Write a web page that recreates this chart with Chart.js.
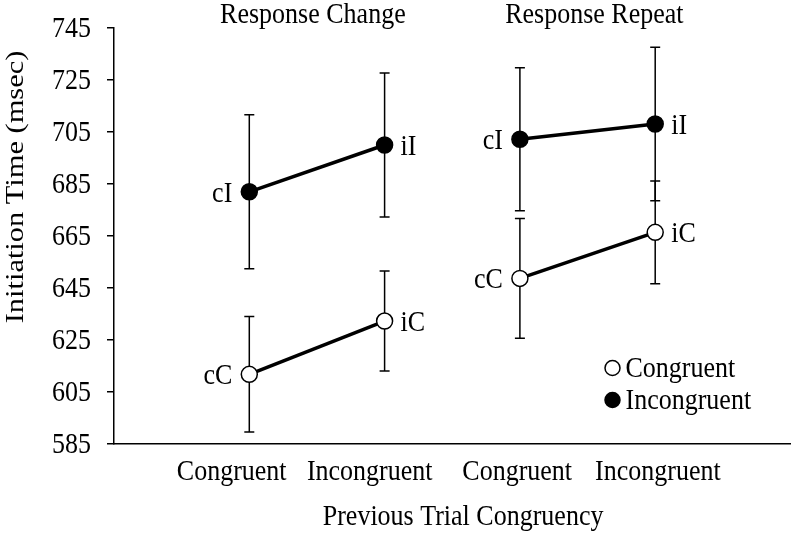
<!DOCTYPE html>
<html>
<head>
<meta charset="utf-8">
<script src="https://cdn.jsdelivr.net/npm/chart.js@4.4.1/dist/chart.umd.min.js"></script>
<style>
    html, body { margin: 0; padding: 0; background: #ffffff; }
</style>
</head>
<body>
<canvas id="rtChart" width="800" height="536"></canvas>
<script>
// Previous-trial congruency categories (x axis)
const categories = ['Congruent', 'Incongruent', 'Congruent', 'Incongruent'];
const categoryX = [1, 2, 3, 4];
const groupTitles = ['Response Change', 'Response Repeat'];

// Mean initiation times (msec), [previous congruent, previous incongruent]
const changeCongruent = [611.8, 632.3];
const changeIncongruent = [682.0, 700.0];
const repeatCongruent = [648.7, 666.4];
const repeatIncongruent = [702.2, 708.1];

// Error bar half-lengths (msec)
const changeCongruentErr = [22.2, 19.2];
const changeIncongruentErr = [29.6, 27.7];
const repeatCongruentErr = [23.0, 19.8];
const repeatIncongruentErr = [27.5, 29.5];

// Point labels
const congruentLabels = ['cC', 'iC'];
const incongruentLabels = ['cI', 'iI'];

// Y axis ticks
const yMin = 585;
const yMax = 745;
const yStep = 20;

const FONT = "'Liberation Serif', 'Times New Roman', serif";
const FONT_SIZE = 26;
const STRETCH = 1.17; // the original lettering is taller than it is wide

function makeSeries(values, errs, labels, filled, xs) {
    return {
        data: values.map((v, i) => ({ x: xs[i], y: v })),
        errs: errs,
        pointLabels: labels,
        borderColor: '#000000',
        borderWidth: 3.5,
        pointRadius: 8,
        pointHoverRadius: 8,
        pointBorderWidth: 1.5,
        pointBorderColor: '#000000',
        pointBackgroundColor: filled ? '#000000' : '#ffffff',
        fill: false,
        tension: 0
    };
}

function drawText(ctx, text, x, y, align, size, rotate) {
    ctx.save();
    ctx.translate(x, y);
    ctx.scale(1, STRETCH);
    if (rotate) ctx.rotate(-Math.PI / 2);
    ctx.font = size + 'px ' + FONT;
    ctx.textAlign = align;
    ctx.textBaseline = 'middle';
    ctx.fillStyle = '#000000';
    ctx.fillText(text, 0, 0);
    ctx.restore();
}

// Error bars sit behind the markers
const errorBarPlugin = {
    id: 'errorBars',
    beforeDatasetsDraw(chart) {
        const ctx = chart.ctx;
        const yScale = chart.scales.y;
        ctx.save();
        ctx.strokeStyle = '#000000';
        ctx.lineWidth = 1.5;
        chart.data.datasets.forEach((ds, i) => {
            const meta = chart.getDatasetMeta(i);
            meta.data.forEach((pt, j) => {
                const v = ds.data[j].y;
                const e = ds.errs[j];
                const yHi = yScale.getPixelForValue(v + e);
                const yLo = yScale.getPixelForValue(v - e);
                ctx.beginPath();
                ctx.moveTo(pt.x, yHi);
                ctx.lineTo(pt.x, yLo);
                ctx.moveTo(pt.x - 5, yHi);
                ctx.lineTo(pt.x + 5, yHi);
                ctx.moveTo(pt.x - 5, yLo);
                ctx.lineTo(pt.x + 5, yLo);
                ctx.stroke();
            });
        });
        ctx.restore();
    }
};

// All lettering: tick labels, axis titles, point labels, panel titles, legend
const textPlugin = {
    id: 'lettering',
    afterDraw(chart) {
        const ctx = chart.ctx;
        const area = chart.chartArea;
        const xScale = chart.scales.x;
        const yScale = chart.scales.y;

        // y tick labels
        yScale.ticks.forEach(t => {
            drawText(ctx, String(t.value), 91, yScale.getPixelForValue(t.value) + 1, 'right', FONT_SIZE);
        });

        // x tick labels, a little left of the points in the original
        const shift = [-0.13, -0.11, -0.02, 0.02];
        categories.forEach((c, i) => {
            drawText(ctx, c, xScale.getPixelForValue(categoryX[i] + shift[i]), area.bottom + 28, 'center', FONT_SIZE);
        });

        // axis titles
        drawText(ctx, 'Previous Trial Congruency', xScale.getPixelForValue(2.58), area.bottom + 73, 'center', FONT_SIZE);
        drawText(ctx, 'Initiation Time (msec)', 16, 187, 'center', 26, true);

        // labels next to each point: left of first, right of second
        chart.data.datasets.forEach((ds, i) => {
            const meta = chart.getDatasetMeta(i);
            meta.data.forEach((pt, j) => {
                if (j === 0) {
                    drawText(ctx, ds.pointLabels[j], pt.x - 17, pt.y + 2, 'right', FONT_SIZE);
                } else {
                    drawText(ctx, ds.pointLabels[j], pt.x + 16, pt.y + 2, 'left', FONT_SIZE);
                }
            });
        });

        // panel titles centred over each pair
        const titleShift = [-0.03, 0.05];
        groupTitles.forEach((t, g) => {
            const mid = (categoryX[g * 2] + categoryX[g * 2 + 1]) / 2 + titleShift[g];
            drawText(ctx, t, xScale.getPixelForValue(mid), 15, 'center', FONT_SIZE);
        });

        // legend
        const lx = area.right - 178;
        const rows = [
            { text: 'Congruent', fill: '#ffffff', y: area.bottom - 76 },
            { text: 'Incongruent', fill: '#000000', y: area.bottom - 44 }
        ];
        ctx.save();
        ctx.lineWidth = 1.5;
        ctx.strokeStyle = '#000000';
        rows.forEach(r => {
            ctx.beginPath();
            ctx.arc(lx, r.y, 7.5, 0, Math.PI * 2);
            ctx.fillStyle = r.fill;
            ctx.fill();
            ctx.stroke();
            drawText(ctx, r.text, lx + 13, r.y + 1, 'left', FONT_SIZE);
        });
        ctx.restore();
    }
};

const ctx = document.getElementById('rtChart').getContext('2d');
const chart = new Chart(ctx, {
    type: 'line',
    data: {
        datasets: [
            makeSeries(changeCongruent, changeCongruentErr, congruentLabels, false, categoryX.slice(0, 2)),
            makeSeries(changeIncongruent, changeIncongruentErr, incongruentLabels, true, categoryX.slice(0, 2)),
            makeSeries(repeatCongruent, repeatCongruentErr, congruentLabels, false, categoryX.slice(2, 4)),
            makeSeries(repeatIncongruent, repeatIncongruentErr, incongruentLabels, true, categoryX.slice(2, 4))
        ]
    },
    options: {
        responsive: false,
        animation: false,
        layout: {
            padding: { left: 0, right: 5, top: 28, bottom: 0 }
        },
        scales: {
            x: {
                type: 'linear',
                min: 0,
                max: 5,
                afterFit: (scale) => {
                    scale.height = 92;
                },
                ticks: { display: false },
                grid: {
                    display: false,
                    drawTicks: false
                },
                border: {
                    display: true,
                    color: '#000000',
                    width: 1.5
                }
            },
            y: {
                min: yMin,
                max: yMax,
                afterFit: (scale) => {
                    scale.width = 114;
                },
                ticks: {
                    stepSize: yStep,
                    display: false
                },
                grid: {
                    display: true,
                    drawOnChartArea: false,
                    drawTicks: true,
                    tickLength: 7,
                    color: '#000000',
                    lineWidth: 1.5
                },
                border: {
                    display: true,
                    color: '#000000',
                    width: 1.5
                }
            }
        },
        plugins: {
            legend: { display: false },
            tooltip: { enabled: false }
        }
    },
    plugins: [errorBarPlugin, textPlugin]
});
</script>
</body>
</html>
